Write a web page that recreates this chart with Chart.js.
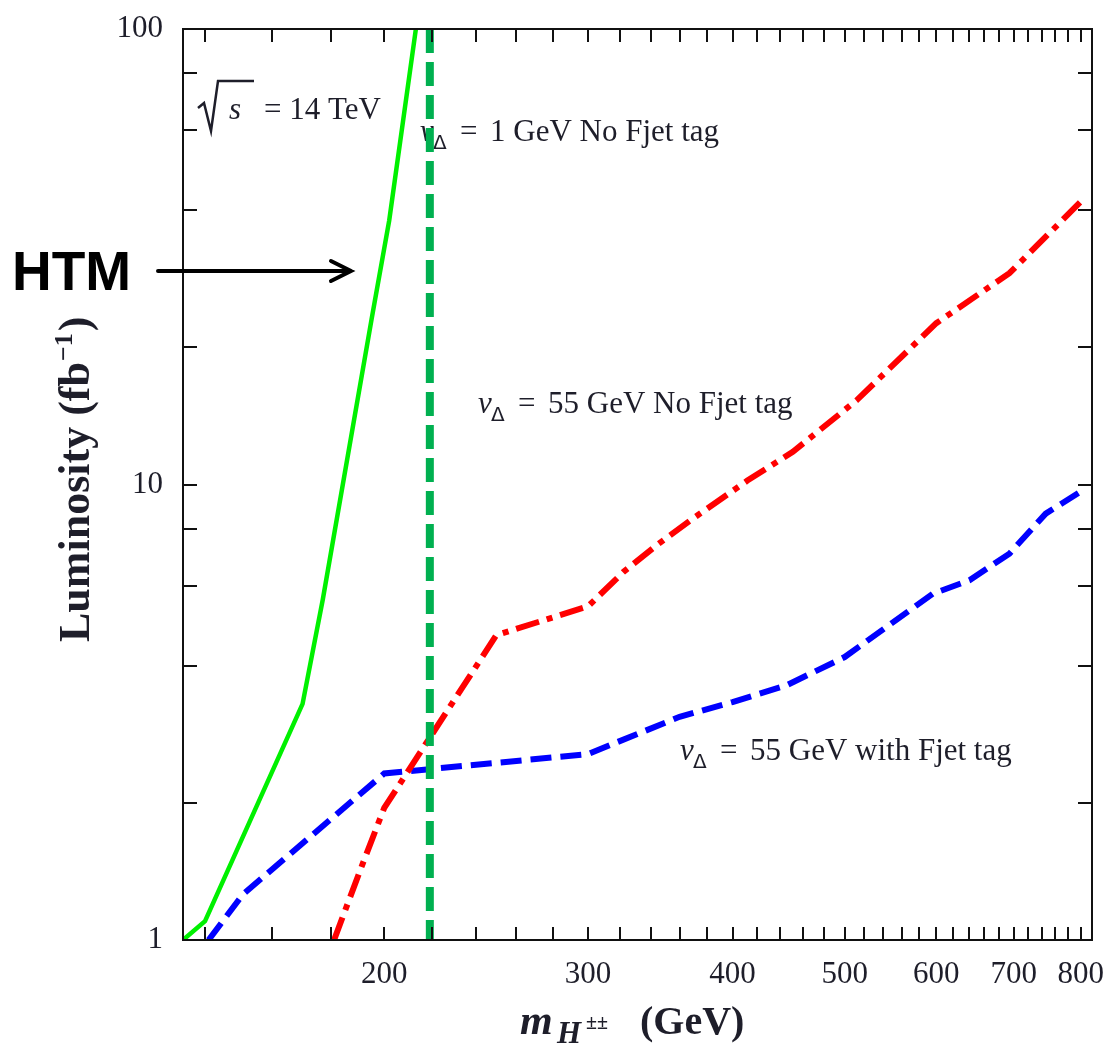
<!DOCTYPE html>
<html>
<head>
<meta charset="utf-8">
<script src="https://cdn.jsdelivr.net/npm/chart.js@4.4.0/dist/chart.umd.min.js"></script>
<style>
  html, body { margin: 0; padding: 0; background: #fff; }
</style>
</head>
<body>
<canvas id="lumi-chart" width="1105" height="1057"></canvas>
<script>
// 5 sigma discovery luminosity vs doubly charged higgs mass, sqrt(s) = 14 TeV

// v = 1 GeV line (HTM)
const htmMass = [134, 140, 170, 177, 195, 202, 213]
const htmLumi = [1, 1.1, 3.3, 5.6, 23, 38, 100]

// v = 55 GeV, with forward jet tag
const fjetMass = [141, 151, 200, 300, 360, 400, 445, 500, 596, 641, 694, 746, 800]
const fjetLumi = [1, 1.26, 2.32, 2.56, 3.09, 3.33, 3.62, 4.18, 5.76, 6.16, 7.05, 8.63, 9.65]

// v = 55 GeV, no forward jet tag
const noFjetMass = [181, 191, 200, 250, 300, 322, 344, 368, 412, 451, 512, 600, 694, 800]
const noFjetLumi = [1, 1.44, 1.95, 4.67, 5.4, 6.43, 7.36, 8.35, 10.2, 11.8, 15.3, 22.6, 29.1, 41.8]

// v = 1 GeV, no forward jet tag: vertical limit
const v1Mass = [219, 219]
const v1Lumi = [100, 1]

const xTickLabels = [200, 300, 400, 500, 600, 700, 800]
const yTickLabels = [1, 10, 100]
const yMinorTicks = [2, 4, 6, 8, 10, 20, 40, 60, 80]

const xMinorTicks = []
for (let m = 140; m <= 800; m += 20) xMinorTicks.push(m)

const toPoints = (xs, ys) => xs.map((v, i) => ({ x: v, y: ys[i] }))

const serif = '"Liberation Serif", "Times New Roman", serif'
const textColor = '#1e1e2a'

// draws a row of text pieces with their own font / offset
function drawRuns(ctx, x, y, runs) {
  runs.forEach(r => {
    ctx.font = r.font
    const px = r.at !== undefined ? x + r.at : x
    ctx.fillText(r.text, px, y + (r.dy || 0))
  })
}

function vDelta(ctx, x, y, rest) {
  drawRuns(ctx, x, y, [
    { text: 'v', font: 'italic 31px ' + serif, at: 0 },
    { text: 'Δ', font: '20px "DejaVu Sans", sans-serif', at: 13, dy: 8 },
    { text: '=', font: '31px ' + serif, at: 40 },
    { text: rest, font: '31px ' + serif, at: 70 }
  ])
}

const decorations = {
  id: 'decorations',
  beforeDatasetsDraw(chart) {
    const ctx = chart.ctx
    ctx.save()
    ctx.fillStyle = textColor
    ctx.textBaseline = 'alphabetic'
    ctx.textAlign = 'left'

    // sqrt(s) = 14 TeV
    ctx.strokeStyle = textColor
    ctx.lineWidth = 2.5
    ctx.beginPath()
    ctx.moveTo(198, 108)
    ctx.lineTo(204, 103)
    ctx.lineTo(211, 131)
    ctx.lineTo(218, 81)
    ctx.lineTo(254, 81)
    ctx.stroke()
    drawRuns(ctx, 0, 119, [
      { text: 's', font: 'italic 31px ' + serif, at: 229 },
      { text: '= 14 TeV', font: '31px ' + serif, at: 264 }
    ])

    vDelta(ctx, 420, 141, '1 GeV No Fjet tag')
    vDelta(ctx, 478, 413, '55 GeV No Fjet tag')
    vDelta(ctx, 680, 760, '55 GeV with Fjet tag')
    ctx.restore()
  },
  afterDatasetsDraw(chart) {
    const { ctx, chartArea: a, scales: { x, y } } = chart
    ctx.save()
    ctx.strokeStyle = '#111'
    ctx.lineWidth = 2
    ctx.strokeRect(a.left, a.top, a.right - a.left, a.bottom - a.top)

    // inward ticks on every side
    ctx.beginPath()
    xMinorTicks.forEach(v => {
      const px = Math.round(x.getPixelForValue(v))
      ctx.moveTo(px, a.bottom); ctx.lineTo(px, a.bottom - 13)
      ctx.moveTo(px, a.top); ctx.lineTo(px, a.top + 13)
    })
    yMinorTicks.forEach(v => {
      const py = Math.round(y.getPixelForValue(v))
      ctx.moveTo(a.left, py); ctx.lineTo(a.left + 14, py)
      ctx.moveTo(a.right, py); ctx.lineTo(a.right - 14, py)
    })
    ctx.stroke()

    // axis titles
    ctx.fillStyle = textColor
    ctx.textBaseline = 'alphabetic'
    ctx.textAlign = 'left'
    drawRuns(ctx, 520, 1034, [
      { text: 'm', font: 'italic bold 42px ' + serif, at: 0 },
      { text: 'H', font: 'italic bold 31px ' + serif, at: 37, dy: 9 },
      { text: '±±', font: 'bold 20px ' + serif, at: 66, dy: -5 },
      { text: '(GeV)', font: 'bold 40px ' + serif, at: 120 }
    ])

    ctx.save()
    ctx.translate(89, 642)
    ctx.rotate(-Math.PI / 2)
    ctx.font = 'bold 44px ' + serif
    const main = 'Luminosity (fb'
    ctx.fillText(main, 0, 0)
    let w = ctx.measureText(main).width
    ctx.font = 'bold 26px ' + serif
    ctx.fillText('−1', w + 1, -17)
    w += ctx.measureText('−1').width + 3
    ctx.font = 'bold 44px ' + serif
    ctx.fillText(')', w, 0)
    ctx.restore()

    // HTM pointer
    ctx.font = 'bold 55px "Liberation Sans", Arial, sans-serif'
    ctx.fillStyle = '#000'
    ctx.fillText('HTM', 12, 290)
    ctx.strokeStyle = '#000'
    ctx.lineWidth = 4
    ctx.lineCap = 'round'
    ctx.beginPath()
    ctx.moveTo(158, 271)
    ctx.lineTo(351, 271)
    ctx.moveTo(331, 261)
    ctx.lineTo(351, 271)
    ctx.lineTo(331, 281)
    ctx.stroke()
    ctx.restore()
  }
}

const tickFont = { family: serif, size: 31 }

const lumiChart = new Chart(document.querySelector('#lumi-chart').getContext('2d'), {
  type: 'line',
  data: {
    datasets: [
      {
        label: 'HTM',
        data: toPoints(htmMass, htmLumi),
        borderColor: '#00f000',
        borderWidth: 4.5
      },
      {
        label: 'v = 1 GeV No Fjet tag',
        data: toPoints(v1Mass, v1Lumi),
        borderColor: '#00b050',
        borderWidth: 8,
        borderDash: [24, 9],
        borderCapStyle: 'butt'
      },
      {
        label: 'v = 55 GeV No Fjet tag',
        data: toPoints(noFjetMass, noFjetLumi),
        borderColor: '#ff0000',
        borderWidth: 6,
        borderDash: [24, 8, 6, 8],
        borderCapStyle: 'butt'
      },
      {
        label: 'v = 55 GeV with Fjet tag',
        data: toPoints(fjetMass, fjetLumi),
        borderColor: '#0000ff',
        borderWidth: 6,
        borderDash: [21, 9],
        borderCapStyle: 'butt'
      }
    ]
  },
  options: {
    responsive: false,
    animation: false,
    devicePixelRatio: 1,
    layout: { padding: { top: 29, right: 13, left: 0, bottom: 0 } },
    elements: { point: { radius: 0 }, line: { tension: 0, fill: false } },
    plugins: { legend: { display: false }, tooltip: { enabled: false } },
    scales: {
      x: {
        type: 'logarithmic',
        min: 134,
        max: 818,
        grid: { display: false, drawTicks: false },
        border: { display: false },
        ticks: { font: tickFont, color: textColor, padding: 16, autoSkip: false, maxRotation: 0,
          callback: v => String(v) },
        afterBuildTicks: s => { s.ticks = xTickLabels.map(v => ({ value: v })) },
        afterFit: s => { s.height = 117; s.paddingLeft = 0; s.paddingRight = 0 }
      },
      y: {
        type: 'logarithmic',
        min: 1,
        max: 100,
        grid: { display: false, drawTicks: false },
        border: { display: false },
        ticks: { font: tickFont, color: textColor, padding: 20, autoSkip: false,
          callback: v => String(v) },
        afterBuildTicks: s => { s.ticks = yTickLabels.map(v => ({ value: v })) },
        afterFit: s => { s.width = 183; s.paddingTop = 0; s.paddingBottom = 0 }
      }
    }
  },
  plugins: [decorations]
})
</script>
</body>
</html>
